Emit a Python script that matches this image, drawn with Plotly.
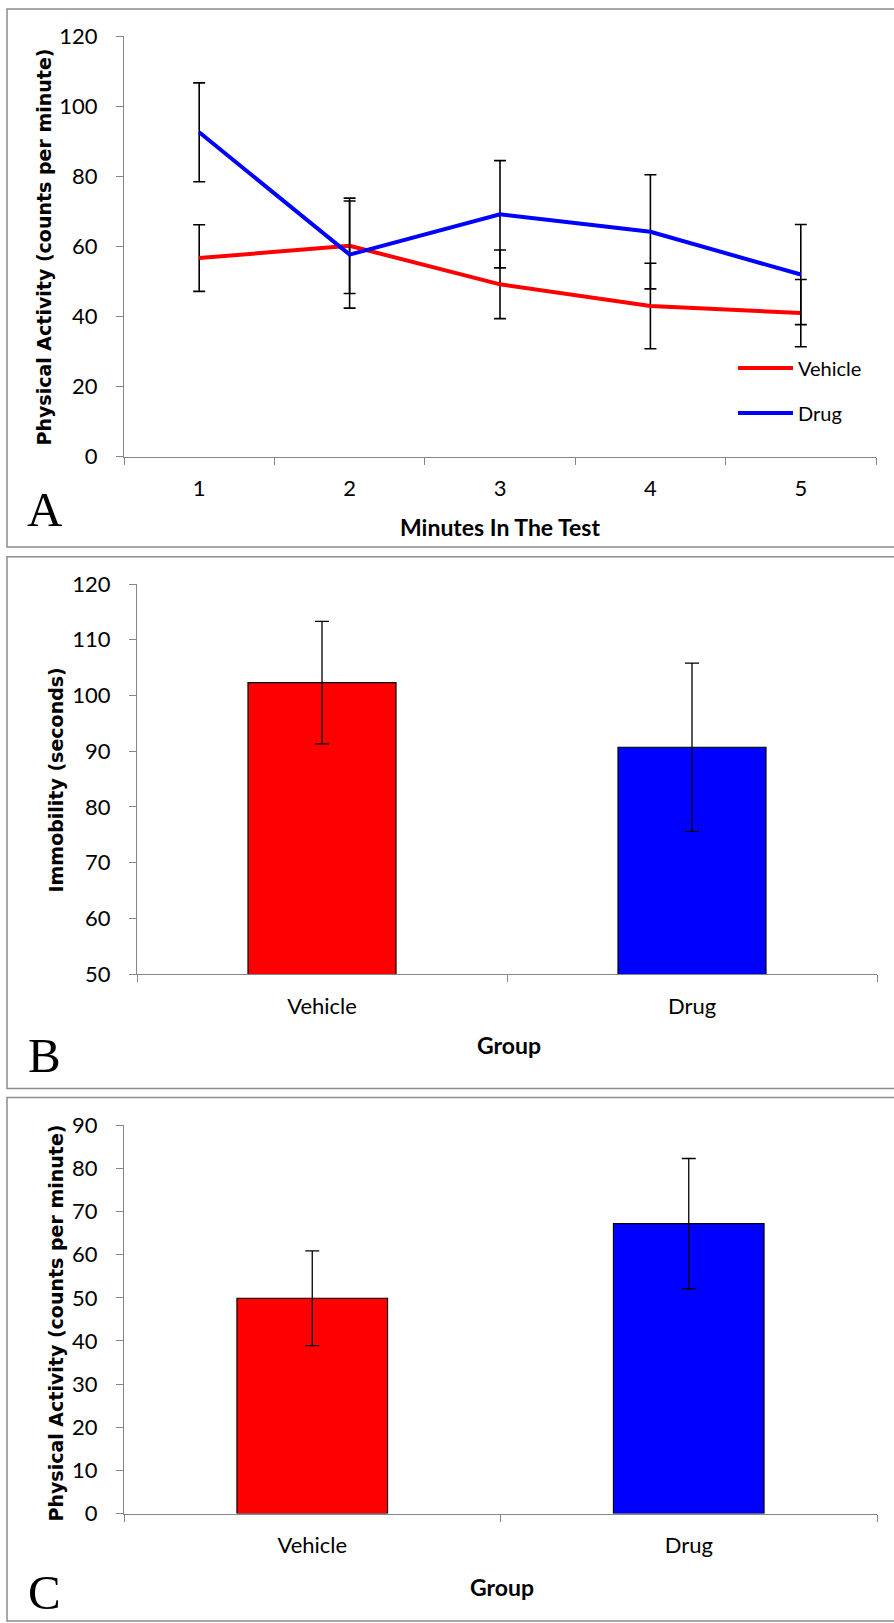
import plotly.graph_objects as go

# ---------------- data ----------------
minutes = ["1", "2", "3", "4", "5"]
vehicle_activity = [56.7, 60.2, 49.2, 43.0, 41.0]
vehicle_activity_err = [9.5, 13.6, 9.8, 12.2, 9.6]
drug_activity = [92.6, 57.7, 69.2, 64.2, 52.0]
drug_activity_err = [14.1, 15.3, 15.3, 16.3, 14.3]

groups = ["Vehicle", "Drug"]
immobility = [102.3, 90.7]
immobility_err = [11.0, 15.1]
total_activity = [49.9, 67.2]
total_activity_err = [11.0, 15.1]

yticks_a = [0, 20, 40, 60, 80, 100, 120]
yticks_b = [50, 60, 70, 80, 90, 100, 110, 120]
yticks_c = [0, 10, 20, 30, 40, 50, 60, 70, 80, 90]

W, H = 894, 1623
RED, BLUE = "#FF0000", "#0000FF"
AXIS_GRAY = "#868686"
BORDER_GRAY = "#8C8C8C"
TICK_FONT = dict(family="Lato", size=22, color="black")
YTITLE_FONT = dict(family="DejaVu Sans", size=19, color="black", weight="bold")
XTITLE_FONT = dict(family="Lato", size=23, color="black", weight="bold")
LETTER_FONT = dict(family="Liberation Serif", size=49, color="black")


def X(px):
    return px / W


def Y(py):
    return 1 - py / H


fig = go.Figure()

# Panel A lines
fig.add_trace(go.Scatter(
    x=minutes, y=vehicle_activity, name="Vehicle", mode="lines",
    line=dict(color=RED, width=4),
    error_y=dict(type="data", array=vehicle_activity_err, color="black", thickness=1.6, width=6),
    xaxis="x", yaxis="y", legend="legend"))
fig.add_trace(go.Scatter(
    x=minutes, y=drug_activity, name="Drug", mode="lines",
    line=dict(color=BLUE, width=4),
    error_y=dict(type="data", array=drug_activity_err, color="black", thickness=1.6, width=6),
    xaxis="x", yaxis="y", legend="legend2"))

# Panel B bars
fig.add_trace(go.Bar(
    x=groups, y=immobility, width=0.4, marker=dict(color=[RED, BLUE], line=dict(color="black", width=1.2)),
    error_y=dict(type="data", array=immobility_err, color="black", thickness=1.3, width=7),
    xaxis="x2", yaxis="y2", showlegend=False))

# Panel C bars
fig.add_trace(go.Bar(
    x=groups, y=total_activity, width=0.4, marker=dict(color=[RED, BLUE], line=dict(color="black", width=1.2)),
    error_y=dict(type="data", array=total_activity_err, color="black", thickness=1.3, width=7),
    xaxis="x3", yaxis="y3", showlegend=False))

common_x = dict(type="category", tickson="boundaries", ticks="outside", ticklen=7, tickcolor=AXIS_GRAY,
                tickwidth=1.3, showline=True, linecolor=AXIS_GRAY, linewidth=1.3, showgrid=False,
                zeroline=False, tickfont=TICK_FONT, ticklabelstandoff=12, automargin=False)
common_y = dict(ticks="outside", ticklen=7, tickcolor=AXIS_GRAY, tickwidth=1.3, showline=True,
                linecolor=AXIS_GRAY, linewidth=1.3, showgrid=False, zeroline=False,
                tickfont=TICK_FONT, ticklabelstandoff=14, automargin=False)

panels = {
    "a": dict(x0=124, x1=876, y0=36.3, y1=456.7),
    "b": dict(x0=137, x1=877, y0=584, y1=974),
    "c": dict(x0=124, x1=877, y0=1125.3, y1=1513.5),
}

fig.update_layout(
    template="none",
    width=W, height=H, margin=dict(l=0, r=0, t=0, b=0, pad=0, autoexpand=False),
    paper_bgcolor="white", plot_bgcolor="white",
    xaxis=dict(common_x, domain=[X(panels["a"]["x0"]), X(panels["a"]["x1"])], anchor="y", range=[-0.5, 4.5]),
    yaxis=dict(common_y, domain=[Y(panels["a"]["y1"]), Y(panels["a"]["y0"])], anchor="x",
               range=[0, 120], tickvals=yticks_a),
    xaxis2=dict(common_x, domain=[X(panels["b"]["x0"]), X(panels["b"]["x1"])], anchor="y2", range=[-0.5, 1.5]),
    yaxis2=dict(common_y, domain=[Y(panels["b"]["y1"]), Y(panels["b"]["y0"])], anchor="x2",
                range=[50, 120], tickvals=yticks_b),
    xaxis3=dict(common_x, domain=[X(panels["c"]["x0"]), X(panels["c"]["x1"])], anchor="y3", range=[-0.5, 1.5]),
    yaxis3=dict(common_y, domain=[Y(panels["c"]["y1"]), Y(panels["c"]["y0"])], anchor="x3",
                range=[0, 90], tickvals=yticks_c),
    legend=dict(x=X(733), y=Y(368), xanchor="left", yanchor="middle", bgcolor="rgba(0,0,0,0)",
                font=dict(family="Lato", size=20, color="black"), itemwidth=55, borderwidth=0),
    legend2=dict(x=X(733), y=Y(413), xanchor="left", yanchor="middle", bgcolor="rgba(0,0,0,0)",
                 font=dict(family="Lato", size=20, color="black"), itemwidth=55, borderwidth=0),
)

# panel borders
for (top, bottom) in [(9, 547), (556.7, 1088.5), (1097.5, 1621)]:
    fig.add_shape(type="rect", xref="paper", yref="paper", x0=X(7), x1=X(W + 5), y0=Y(bottom), y1=Y(top),
                  line=dict(color=BORDER_GRAY, width=1.5), fillcolor="rgba(0,0,0,0)", layer="below")

annotations = [
    dict(text="Physical Activity (counts per minute)", x=X(43.5), y=Y(247), textangle=-90, font=YTITLE_FONT),
    dict(text="Minutes In The Test", x=X(500), y=Y(527), font=XTITLE_FONT),
    dict(text="A", x=X(25), y=Y(509.5), xanchor="left", font=LETTER_FONT),
    dict(text="Immobility (seconds)", x=X(55.5), y=Y(780), textangle=-90, font=YTITLE_FONT),
    dict(text="Group", x=X(509), y=Y(1045), font=XTITLE_FONT),
    dict(text="B", x=X(25.6), y=Y(1055.5), xanchor="left", font=LETTER_FONT),
    dict(text="Physical Activity (counts per minute)", x=X(55.5), y=Y(1323), textangle=-90, font=YTITLE_FONT),
    dict(text="Group", x=X(501.7), y=Y(1586.6), font=XTITLE_FONT),
    dict(text="C", x=X(25.7), y=Y(1592), xanchor="left", font=LETTER_FONT),
]
for a in annotations:
    a.setdefault("xanchor", "center")
    a.setdefault("yanchor", "middle")
    fig.add_annotation(xref="paper", yref="paper", showarrow=False, **a)

fig.write_html("out.html", config={"displayModeBar": False},
               post_script="document.body.style.margin='0';document.body.style.overflow='hidden';")
